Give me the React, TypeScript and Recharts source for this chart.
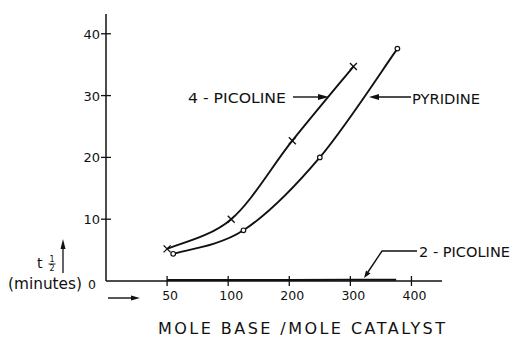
import React from 'react';
import { LineChart, Line, XAxis, YAxis } from 'recharts';

// Tick labels
const xTickValues = [50, 100, 200, 300, 400];
const yTickValues = [0, 10, 20, 30, 40];

// Series (mole base / mole catalyst, t1/2 in minutes)
const picoline4X = [50, 105, 205, 305];
const picoline4Y = [5.2, 10, 22.7, 34.7];
const pyridineX = [55, 125, 250, 377];
const pyridineY = [4.4, 8.2, 20, 37.6];
const picoline2X = [50, 100, 200, 300, 375];
const picoline2Y = [0.15, 0.15, 0.15, 0.2, 0.2];

// broken x scale: 50-100 occupies one division, then one division per 100
const toPos = (v: number) => (v <= 100 ? (v - 50) / 50 : v / 100);

const build = (xs: number[], ys: number[]) => xs.map((x, i) => ({ u: toPos(x), y: ys[i] }));

const picoline4Data = build(picoline4X, picoline4Y);
const pyridineData = build(pyridineX, pyridineY);
const picoline2Data = build(picoline2X, picoline2Y);

const FONT = '"DejaVu Sans", sans-serif';
const INK = '#111';

// Catmull-Rom style smooth curve (hand-drawn French-curve look), used as a d3 curve factory
const smoothCurve: any = (context: any) => {
  let pts: [number, number][] = [];
  return {
    areaStart() {},
    areaEnd() {},
    lineStart() {
      pts = [];
    },
    point(x: number, y: number) {
      pts.push([+x, +y]);
    },
    lineEnd() {
      if (!pts.length) return;
      context.moveTo(pts[0][0], pts[0][1]);
      for (let i = 0; i < pts.length - 1; i++) {
        const p0 = pts[Math.max(i - 1, 0)];
        const p1 = pts[i];
        const p2 = pts[i + 1];
        const p3 = pts[Math.min(i + 2, pts.length - 1)];
        context.bezierCurveTo(
          p1[0] + (p2[0] - p0[0]) / 6,
          p1[1] + (p2[1] - p0[1]) / 6,
          p2[0] - (p3[0] - p1[0]) / 6,
          p2[1] - (p3[1] - p1[1]) / 6,
          p2[0],
          p2[1]
        );
      }
    },
  };
};

const XTick = (props: any) => {
  const { x, y, payload } = props;
  const idx = xTickValues.map(toPos).findIndex((p) => Math.abs(p - payload.value) < 1e-9);
  return (
    <g>
      <line x1={x} x2={x} y1={y - 5} y2={y + 5} stroke={INK} strokeWidth={1.3} />
      <text x={x + 3} y={y + 19} textAnchor="middle" fontSize={12.5} fontFamily={FONT} fill={INK}>
        {idx >= 0 ? String(xTickValues[idx]) : ''}
      </text>
    </g>
  );
};

const YTick = (props: any) => {
  const { x, y, payload } = props;
  if (payload.value === 0) {
    return (
      <text x={96} y={y + 8} textAnchor="end" fontSize={12.5} fontFamily={FONT} fill={INK}>
        0
      </text>
    );
  }
  return (
    <g>
      <line x1={x - 5} x2={x + 5} y1={y} y2={y} stroke={INK} strokeWidth={1.3} />
      <text x={x - 6} y={y + 5} textAnchor="end" fontSize={13} fontFamily={FONT} fill={INK}>
        {String(payload.value)}
      </text>
    </g>
  );
};

const CrossDot = (props: any) => {
  const { cx, cy, index } = props;
  if (cx == null || cy == null) return <g key={index} />;
  return (
    <g key={index}>
      <line x1={cx - 3.5} x2={cx + 3.5} y1={cy - 3.5} y2={cy + 3.5} stroke={INK} strokeWidth={1.3} />
      <line x1={cx - 3.5} x2={cx + 3.5} y1={cy + 3.5} y2={cy - 3.5} stroke={INK} strokeWidth={1.3} />
    </g>
  );
};

const CircleDot = (props: any) => {
  const { cx, cy, index } = props;
  if (cx == null || cy == null) return <g key={index} />;
  return <circle key={index} cx={cx} cy={cy} r={2.3} fill="#fff" stroke={INK} strokeWidth={1.2} />;
};

export default function App() {
  return (
    <div style={{ position: 'absolute', left: 0, top: 0, width: 513, height: 338, background: '#fff' }}>
      <LineChart width={513} height={338} margin={{ top: 14, right: 71, left: 0, bottom: 0 }}>
        <XAxis
          type="number"
          dataKey="u"
          domain={[-1, 4.5]}
          ticks={xTickValues.map(toPos)}
          allowDataOverflow
          height={57}
          tickSize={0}
          tickMargin={0}
          tickLine={false}
          axisLine={{ stroke: INK, strokeWidth: 1.5 }}
          tick={<XTick />}
        />
        <YAxis
          type="number"
          domain={[0, 43.2]}
          ticks={yTickValues}
          allowDataOverflow
          width={106}
          tickSize={0}
          tickMargin={0}
          tickLine={false}
          axisLine={{ stroke: INK, strokeWidth: 1.5 }}
          tick={<YTick />}
        />
        <Line
          data={picoline2Data}
          dataKey="y"
          type="linear"
          stroke={INK}
          strokeWidth={2}
          dot={false}
          isAnimationActive={false}
        />
        <Line
          data={picoline4Data}
          dataKey="y"
          type={smoothCurve}
          stroke={INK}
          strokeWidth={1.9}
          dot={(p: any) => <CrossDot key={p.index} {...p} />}
          isAnimationActive={false}
        />
        <Line
          data={pyridineData}
          dataKey="y"
          type={smoothCurve}
          stroke={INK}
          strokeWidth={1.9}
          dot={(p: any) => <CircleDot key={p.index} {...p} />}
          isAnimationActive={false}
        />
      </LineChart>
      <svg
        width={513}
        height={338}
        style={{ position: 'absolute', left: 0, top: 0, pointerEvents: 'none' }}
      >
        <g fill={INK} fontFamily={FONT}>
          {/* 4-picoline label */}
          <text x={188} y={103} fontSize={14.5} textLength={98} lengthAdjust="spacingAndGlyphs">
            4 - PICOLINE
          </text>
          <line x1={293} x2={322} y1={97} y2={97} stroke={INK} strokeWidth={1.4} />
          <polygon points="329,97 318,94 318,100" />
          {/* pyridine label */}
          <text x={412} y={104} fontSize={14.5} textLength={68} lengthAdjust="spacingAndGlyphs">
            PYRIDINE
          </text>
          <line x1={376} x2={411} y1={97} y2={97} stroke={INK} strokeWidth={1.4} />
          <polygon points="369,97 379,94 379,100" />
          {/* 2-picoline label */}
          <text x={419} y={257} fontSize={14.5} textLength={91} lengthAdjust="spacingAndGlyphs">
            2 - PICOLINE
          </text>
          <polyline points="417,251 382,251 368,272" fill="none" stroke={INK} strokeWidth={1.4} />
          <polygon points="364,278 370.5,273.5 366,270.5" />
          {/* y axis label */}
          <text x={37} y={268} fontSize={14}>t</text>
          <text x={52} y={262} fontSize={8} textAnchor="middle">1</text>
          <line x1={48.5} x2={55.5} y1={264} y2={264} stroke={INK} strokeWidth={0.9} />
          <text x={52} y={271} fontSize={8} textAnchor="middle">2</text>
          <line x1={63} x2={63} y1={248} y2={273} stroke={INK} strokeWidth={1.3} />
          <polygon points="63,239 60.5,249 65.5,249" />
          <text x={8} y={289} fontSize={15.5} textLength={74} lengthAdjust="spacingAndGlyphs">
            (minutes)
          </text>
          {/* x axis arrow and title */}
          <line x1={108} x2={133} y1={298} y2={298} stroke={INK} strokeWidth={1.4} />
          <polygon points="140,298 131,295.5 131,300.5" />
          <text x={158} y={334} fontSize={16} textLength={287} lengthAdjust="spacing">
            MOLE BASE /MOLE CATALYST
          </text>
        </g>
      </svg>
    </div>
  );
}
